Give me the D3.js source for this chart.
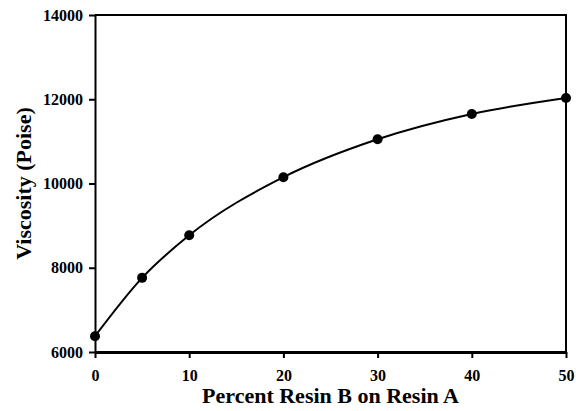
<!DOCTYPE html>
<html>
<head>
<meta charset="utf-8">
<script src="https://cdn.jsdelivr.net/npm/d3@7"></script>
<style>
  body { margin: 0; background: #fff; }
  svg { display: block; }
</style>
</head>
<body>
<div id="chart"></div>
<script>
const percentB = [0, 5, 10, 20, 30, 40, 50];
const viscosity = [6375, 7760, 8770, 10150, 11050, 11650, 12030];
const xTicks = [0, 10, 20, 30, 40, 50];
const yTicks = [6000, 8000, 10000, 12000, 14000];

const width = 576;
const height = 411;
const margin = { top: 15, right: 10, bottom: 59, left: 95 };
const innerWidth = width - margin.left - margin.right;
const innerHeight = height - margin.top - margin.bottom;
const font = "'Liberation Serif', 'Times New Roman', serif";

const points = percentB.map((x, i) => ({ x, y: viscosity[i] }));

const svg = d3.select("#chart")
  .append("svg")
  .attr("width", width)
  .attr("height", height);

const chart = svg.append("g")
  .attr("transform", `translate(${margin.left}, ${margin.top})`);

const xScale = d3.scaleLinear().domain([0, 50]).range([0, innerWidth]);
const yScale = d3.scaleLinear().domain([6000, 14000]).range([innerHeight, 0]);

// frame (top and right)
chart.append("path")
  .attr("d", `M0,0H${innerWidth}V${innerHeight}`)
  .attr("fill", "none")
  .attr("stroke", "#000")
  .attr("stroke-width", 2);

chart.append("g")
  .attr("transform", `translate(0, ${innerHeight})`)
  .call(d3.axisBottom(xScale).tickValues(xTicks).tickSize(6).tickPadding(12).tickSizeOuter(0))
  .call(g => g.select(".domain").attr("stroke-width", 3))
  .call(g => g.selectAll(".tick line").attr("stroke-width", 2))
  .selectAll("text")
  .attr("font-family", font)
  .attr("font-size", 16)
  .attr("font-weight", 700)
  .attr("fill", "#000");

chart.append("g")
  .call(d3.axisLeft(yScale).tickValues(yTicks).tickSize(6).tickPadding(6).tickSizeOuter(0).tickFormat(d3.format("d")))
  .call(g => g.select(".domain").attr("stroke-width", 2))
  .call(g => g.selectAll(".tick line").attr("stroke-width", 2))
  .selectAll("text")
  .attr("font-family", font)
  .attr("font-size", 16)
  .attr("font-weight", 700)
  .attr("fill", "#000");

const line = d3.line()
  .x(d => xScale(d.x))
  .y(d => yScale(d.y))
  .curve(d3.curveMonotoneX);

chart.append("path")
  .datum(points)
  .attr("d", line)
  .attr("fill", "none")
  .attr("stroke", "#000")
  .attr("stroke-width", 2);

chart.selectAll("circle")
  .data(points)
  .join("circle")
  .attr("cx", d => xScale(d.x))
  .attr("cy", d => yScale(d.y))
  .attr("r", 5)
  .attr("fill", "#000");

svg.append("text")
  .attr("x", margin.left + innerWidth / 2)
  .attr("y", 403)
  .attr("text-anchor", "middle")
  .attr("font-family", font)
  .attr("font-size", 22)
  .attr("font-weight", 700)
  .text("Percent Resin B on Resin A");

svg.append("text")
  .attr("transform", `translate(31, ${margin.top + innerHeight / 2}) rotate(-90)`)
  .attr("text-anchor", "middle")
  .attr("font-family", font)
  .attr("font-size", 22)
  .attr("font-weight", 700)
  .text("Viscosity (Poise)");
</script>
</body>
</html>
